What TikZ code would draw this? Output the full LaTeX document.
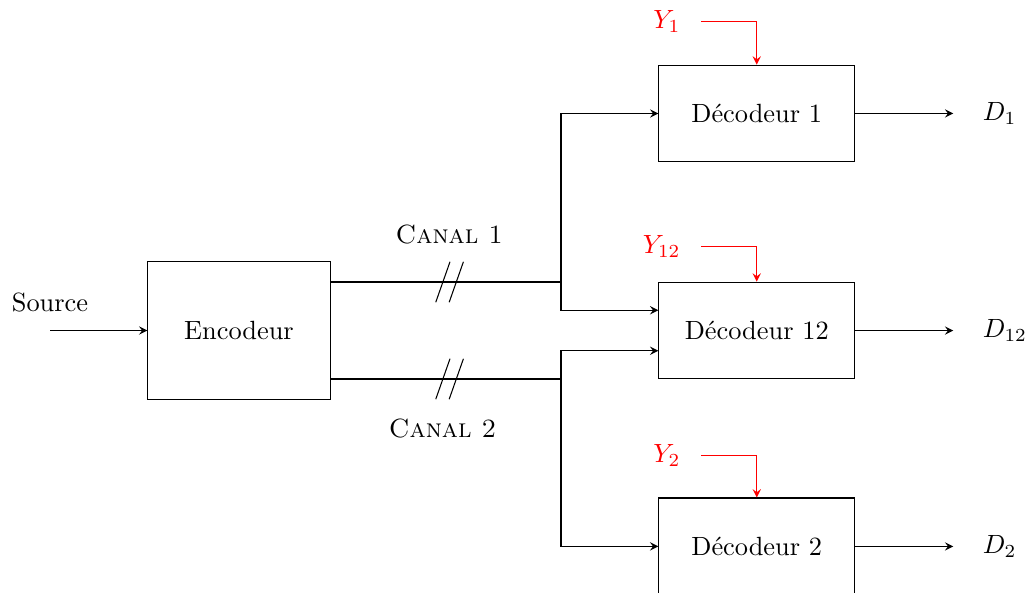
\documentclass[tikz,border=0pt]{standalone}
\usepackage{tikz}
\usetikzlibrary{calc,positioning}
\tikzset{
  bloc/.style={
    shape = rectangle,
    draw,
    minimum width = 2.61cm,
    minimum height = 1.29cm
  },
  fleche/.style={
    -stealth
  },
  signal/.style={
    -stealth,
    red
  },
}

\begin{document}
\begin{tikzpicture}
    \def\xd{10.09}
    \def\xj{7.48}
    \def\dd{0.27}
    \useasboundingbox (0,0) rectangle (13.68,-7.9);
        % encodeur et source
        \node[bloc, minimum width=2.43cm, minimum height=1.85cm] (enc) at (3.187,-4.407) {Encodeur};
        \coordinate (src) at (0.667,-4.407);
        \draw[fleche] (src) -- (enc);
        \node[above=0.12cm of src] (source) {Source};
        % decodeurs
        \foreach \nom/\y/\h in {1/-1.513/0.573, 12/-4.407/0.467, 2/-7.285/0.56}{
        \node[bloc] (dec\nom) at (\xd,\y) {Décodeur \nom};
        \coordinate (out\nom) at (12.71,\y);
        \draw[fleche] (dec\nom) -- (out\nom);
        \node[anchor=west] (d\nom) at (12.98,\y) {$D_{\nom}$};
        \coordinate (ys\nom) at ($(dec\nom.north)+(-0.743,\h)$);
        \draw[signal] (ys\nom) -| (dec\nom.north);
        \node[red, left=0.15cm of ys\nom] (y\nom) {$Y_{\nom}$};
        }
        % canaux
        \coordinate (j1) at (\xj,-3.76);
        \coordinate (j2) at (\xj,-5.053);
        \draw (enc.east |- j1) -- (j1);
        \draw (enc.east |- j2) -- (j2);
        \foreach \y in {-3.76,-5.053}{
        \foreach \x in {5.905,6.084}{
        \draw ({\x-0.095},{\y-0.27}) -- ({\x+0.095},{\y+0.27});
        }
        }
        \node (canal1) at (5.99,-3.133) {\textsc{Canal 1}};
        \node (canal2) at (5.9,-5.713) {\textsc{Canal 2}};
        \draw[fleche] (j1) |- (dec1.west);
        \draw[fleche] (j1) |- ([yshift=\dd cm]dec12.west);
        \draw[fleche] (j2) |- ([yshift=-\dd cm]dec12.west);
        \draw[fleche] (j2) |- (dec2.west);
    \end{tikzpicture}
\end{document}
